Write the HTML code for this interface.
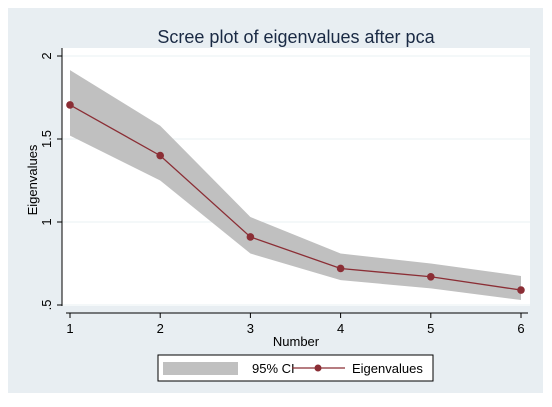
<!DOCTYPE html>
<html><head><style>
body{margin:0;background:#fff;}
svg{display:block;font-family:"Liberation Sans",sans-serif;}
</style></head><body>
<svg width="552" height="407" id="chart">
<rect x="8" y="8" width="535" height="385" fill="#e8eef2"/>
<rect x="62" y="48" width="468" height="258" fill="#fff"/>
<text x="296" y="43" font-size="18" text-anchor="middle" fill="#1a2a44">Scree plot of eigenvalues after pca</text>
<g id="grid"></g>
<g id="series"></g>
<line x1="62" y1="48" x2="62" y2="306" stroke="#000" stroke-width="1"/>
<line x1="66" y1="313" x2="528" y2="313" stroke="#000" stroke-width="1"/>
<g id="ticks"></g>
<text x="296" y="346" font-size="13" text-anchor="middle">Number</text>
<text transform="translate(37,180) rotate(-90)" font-size="13" text-anchor="middle">Eigenvalues</text>
<g>
<rect x="158" y="355" width="275" height="26" fill="#fff" stroke="#000" stroke-width="1"/>
<rect x="163" y="362" width="75" height="13" fill="#c0c0c0"/>
<text x="252" y="373" font-size="13">95% CI</text>
<line x1="292" y1="368" x2="345" y2="368" stroke="#8b2e35" stroke-width="1.3"/>
<circle cx="318" cy="368" r="3.5" fill="#8b2e35"/>
<text x="352" y="373" font-size="13">Eigenvalues</text>
</g>
</svg>
<script>
const categories=[1,2,3,4,5,6];
const eigenvalues=[1.705,1.40,0.91,0.72,0.67,0.59];
const ciUpper=[1.915,1.58,1.03,0.81,0.75,0.675];
const ciLower=[1.52,1.25,0.81,0.65,0.60,0.53];
const yTicks=[0.5,1,1.5,2];
const yTickLabels=[".5","1","1.5","2"];
const NS="http://www.w3.org/2000/svg";
function xs(v){return 70+(v-1)*90.2;}
function ys(v){return 305-(v-0.5)*166;}
function mk(t,a,p){const e=document.createElementNS(NS,t);for(const k in a)e.setAttribute(k,a[k]);p.appendChild(e);return e;}
const grid=document.getElementById('grid'),ser=document.getElementById('series'),tk=document.getElementById('ticks');
yTicks.forEach((v,i)=>{
 const g=mk('line',{x1:62,x2:530,y1:ys(v),y2:ys(v),stroke:'#eaf0f3','stroke-width':1},grid);
 
 
 const t=mk('line',{x1:57,x2:62,y1:ys(v),y2:ys(v),stroke:'#000'},tk);
 
 
 const l=mk('text',{transform:`translate(${51},${ys(v)}) rotate(-90)`,'font-size':13,'text-anchor':'middle'},tk);
 l.textContent=yTickLabels[i];
 
 
});
categories.forEach(c=>{
 const t=mk('line',{x1:xs(c),x2:xs(c),y1:313,y2:318,stroke:'#000'},tk);
 
 
 const l=mk('text',{x:xs(c),y:333,'font-size':13,'text-anchor':'middle'},tk);
 l.textContent=c;
 
 
});
let pts=categories.map((c,i)=>xs(c)+','+ys(ciUpper[i]));
for(let i=categories.length-1;i>=0;i--)pts.push(xs(categories[i])+','+ys(ciLower[i]));
const band=mk('polygon',{points:pts.join(' '),fill:'#c0c0c0'},ser);


const line=mk('polyline',{points:categories.map((c,i)=>xs(c)+','+ys(eigenvalues[i])).join(' '),fill:'none',stroke:'#8b2e35','stroke-width':1.3},ser);


categories.forEach((c,i)=>{
 const p=mk('circle',{cx:xs(c),cy:ys(eigenvalues[i]),r:3.8,fill:'#8b2e35'},ser);
 
 
});
</script>
</body></html>
